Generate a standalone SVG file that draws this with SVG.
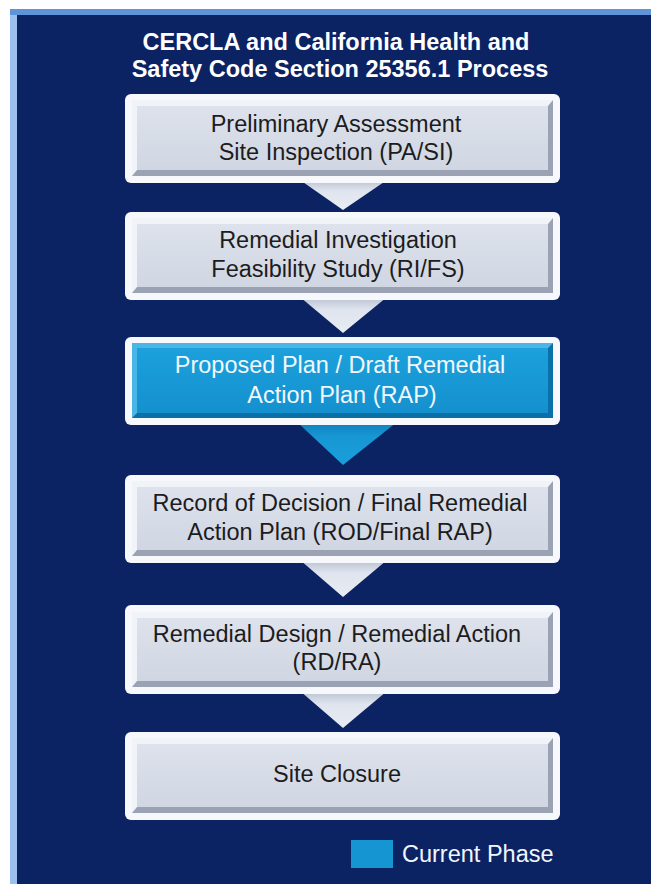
<svg xmlns="http://www.w3.org/2000/svg" width="651" height="884" viewBox="0 0 651 884">
<defs>
<linearGradient id="frameL" x1="0" y1="0" x2="1" y2="0">
<stop offset="0" stop-color="#9cc0ee"/><stop offset="1" stop-color="#3a6fc0"/>
</linearGradient>
<linearGradient id="face" x1="0" y1="0" x2="0" y2="1">
<stop offset="0" stop-color="#dde2ec"/><stop offset="1" stop-color="#d0d6e2"/>
</linearGradient>
<linearGradient id="blueface" x1="0" y1="0" x2="0" y2="1">
<stop offset="0" stop-color="#1ba1dc"/><stop offset="1" stop-color="#1590cf"/>
</linearGradient>
<linearGradient id="garrow" x1="0" y1="0" x2="0" y2="1">
<stop offset="0" stop-color="#b9c1d0"/><stop offset="0.35" stop-color="#dfe4ee"/><stop offset="1" stop-color="#e8ecf3"/>
</linearGradient>
<linearGradient id="barrow" x1="0" y1="0" x2="0" y2="1">
<stop offset="0" stop-color="#0f80bf"/><stop offset="0.35" stop-color="#1797d4"/><stop offset="1" stop-color="#1a9fda"/>
</linearGradient>
</defs>
<style>
.outer{fill:#f6f8fb}
.edgeD{fill:#9aa2b3}
.edgeL{fill:#f0f3f8}
.faceG{fill:url(#face)}
.edgeDB{fill:#0b6fa8}
.edgeLB{fill:#4bb6e6}
.faceB{fill:url(#blueface)}
.t{font-family:"Liberation Sans",Arial,sans-serif;font-size:23.5px;text-anchor:middle;fill:#1c1c1e}
.tw{font-family:"Liberation Sans",Arial,sans-serif;font-size:23.5px;text-anchor:middle;fill:#f2f8fc}
.title{font-family:"Liberation Sans",Arial,sans-serif;font-size:23.5px;font-weight:bold;text-anchor:middle;fill:#ffffff}
.ga{fill:url(#garrow)}
.ba{fill:url(#barrow)}
</style>
<rect x="0" y="0" width="651" height="884" fill="#ffffff"/>
<rect x="10" y="9" width="641" height="875" fill="url(#frameL)"/>
<rect x="10" y="9" width="641" height="6" fill="#5f94d8"/>
<rect x="17" y="15" width="634" height="869" fill="#0b2263"/>

<g id="title">
<text class="title" x="336" y="50">CERCLA and California Health and</text>
<text class="title" x="340" y="77">Safety Code Section 25356.1 Process</text>
</g>

<g id="connectors">
<polygon class="ga" points="300,180 387,180 343,210"/>
<polygon class="ga" points="300,297 387,297 343,333"/>
<polygon class="ba" points="297,422 397,422 343,465"/>
<polygon class="ga" points="300,560 387,560 343,597"/>
<polygon class="ga" points="300,691 387,691 343,728"/>
</g>

<g id="node1">
<rect class="outer" x="125" y="94" width="435" height="89" rx="6"/>
<rect class="edgeD" x="132" y="100" width="421" height="76"/>
<polygon class="edgeL" points="132,100 553,100 548,106 137,106 137,170 132,176"/>
<rect class="faceG" x="137" y="106" width="411" height="64"/>
<text class="t" x="336" y="132">Preliminary Assessment</text>
<text class="t" x="336" y="160">Site Inspection (PA/SI)</text>
</g>

<g id="node2">
<rect class="outer" x="125" y="212" width="435" height="88" rx="6"/>
<rect class="edgeD" x="132" y="218" width="421" height="75"/>
<polygon class="edgeL" points="132,218 553,218 548,224 137,224 137,287 132,293"/>
<rect class="faceG" x="137" y="224" width="411" height="63"/>
<text class="t" x="338" y="248">Remedial Investigation</text>
<text class="t" x="338" y="277">Feasibility Study (RI/FS)</text>
</g>

<g id="node3">
<rect class="outer" x="125" y="337" width="435" height="88" rx="6"/>
<rect class="edgeDB" x="132" y="343" width="421" height="75"/>
<polygon class="edgeLB" points="132,343 553,343 548,348 137,348 137,413 132,418"/>
<rect class="faceB" x="137" y="348" width="411" height="65"/>
<text class="tw" x="340" y="373">Proposed Plan / Draft Remedial</text>
<text class="tw" x="342" y="403">Action Plan (RAP)</text>
</g>

<g id="node4">
<rect class="outer" x="125" y="475" width="435" height="88" rx="6"/>
<rect class="edgeD" x="132" y="481" width="421" height="75"/>
<polygon class="edgeL" points="132,481 553,481 548,487 137,487 137,550 132,556"/>
<rect class="faceG" x="137" y="487" width="411" height="63"/>
<text class="t" x="340" y="511">Record of Decision / Final Remedial</text>
<text class="t" x="340" y="540">Action Plan (ROD/Final RAP)</text>
</g>

<g id="node5">
<rect class="outer" x="125" y="605" width="435" height="89" rx="6"/>
<rect class="edgeD" x="132" y="612" width="421" height="75"/>
<polygon class="edgeL" points="132,612 553,612 548,618 137,618 137,681 132,687"/>
<rect class="faceG" x="137" y="618" width="411" height="63"/>
<text class="t" x="337" y="642">Remedial Design / Remedial Action</text>
<text class="t" x="337" y="670">(RD/RA)</text>
</g>

<g id="node6">
<rect class="outer" x="125" y="732" width="435" height="88" rx="6"/>
<rect class="edgeD" x="132" y="738" width="421" height="75"/>
<polygon class="edgeL" points="132,738 553,738 548,744 137,744 137,807 132,813"/>
<rect class="faceG" x="137" y="744" width="411" height="63"/>
<text class="t" x="337" y="782">Site Closure</text>
</g>

<g id="legend">
<rect x="351" y="840" width="42" height="28" fill="#1596d2"/>
<text x="402" y="862" font-family="Liberation Sans, Arial, sans-serif" font-size="23.5" fill="#f2f6fb">Current Phase</text>
</g>
</svg>
